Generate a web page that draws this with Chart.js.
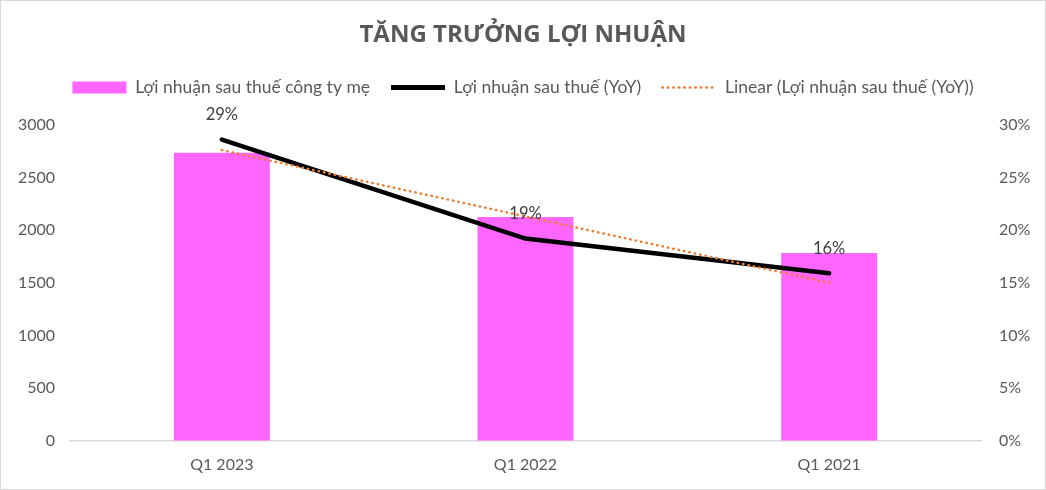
<!DOCTYPE html>
<html>
<head>
<meta charset="utf-8">
<script src="https://cdn.jsdelivr.net/npm/chart.js@4"></script>
<style>
html,body{margin:0;padding:0;background:#fff;}
#wrap{width:1046px;height:490px;box-sizing:border-box;border:1px solid #d9d9d9;position:relative;}
</style>
</head>
<body>
<div id="wrap"><canvas id="c" width="1044" height="488"></canvas></div>
<script>
const categories = ["Q1 2023", "Q1 2022", "Q1 2021"];
const profitValues = [2735, 2125, 1782];
const yoyValues = [28.6, 19.2, 15.9];
const trendValues = [27.6, 21.3, 15.0];
const leftTicks = [0, 500, 1000, 1500, 2000, 2500, 3000];
const rightTicks = [0, 5, 10, 15, 20, 25, 30];
const seriesNames = ["Lợi nhuận sau thuế công ty mẹ", "Lợi nhuận sau thuế (YoY)", "Linear (Lợi nhuận sau thuế (YoY))"];
const titleText = "TĂNG TRƯỞNG LỢI NHUẬN";

const gray = "#595959";

const labelPlugin = {
  id: "yoyLabels",
  afterDatasetsDraw(chart) {
    const meta = chart.getDatasetMeta(1);
    const ctx = chart.ctx;
    ctx.save();
    ctx.font = "16.5px Lato";
    ctx.fillStyle = "#404040";
    ctx.textAlign = "center";
    ctx.textBaseline = "middle";
    meta.data.forEach((pt, i) => {
      ctx.fillText(Math.round(yoyValues[i]) + "%", pt.x, pt.y - 25);
    });
    ctx.restore();
  }
};

const legendHeightPlugin = {
  id: "legendHeight",
  beforeLayout(chart) {
    const lg = chart.legend;
    if (lg && !lg._patched) {
      const orig = lg.fit.bind(lg);
      lg.fit = function () { orig(); this.height = 67; };
      lg._patched = true;
    }
  }
};

new Chart(document.getElementById("c"), {
  data: {
    labels: categories,
    datasets: [
      {
        type: "bar",
        label: seriesNames[0],
        data: profitValues,
        backgroundColor: "#ff66ff",
        yAxisID: "y",
        categoryPercentage: 1,
        barPercentage: 0.316,
        order: 3
      },
      {
        type: "line",
        label: seriesNames[1],
        data: yoyValues,
        borderColor: "#000000",
        backgroundColor: "#000000",
        borderWidth: 4.5,
        pointRadius: 0,
        borderCapStyle: "round",
        yAxisID: "y1",
        order: 2
      },
      {
        type: "line",
        label: seriesNames[2],
        data: trendValues,
        borderColor: "#ed7d31",
        backgroundColor: "#ed7d31",
        borderWidth: 2.5,
        borderDash: [0.5, 5],
        borderCapStyle: "round",
        pointRadius: 0,
        yAxisID: "y1",
        order: 1
      }
    ]
  },
  options: {
    responsive: false,
    animation: false,
    events: [],
    layout: { padding: { left: 0, right: 0, top: 0, bottom: 1 } },
    plugins: {
      tooltip: { enabled: false },
      title: {
        display: true,
        text: titleText,
        color: gray,
        font: { family: "'Open Sans'", size: 24, weight: "bold" },
        padding: { top: 20, bottom: 8 }
      },
      legend: {
        display: true,
        position: "top",
        labels: {
          color: gray,
          font: { family: "Lato", size: 17.5 },
          usePointStyle: true,
          pointStyleWidth: 54,
          boxWidth: 54,
          boxHeight: 12,
          padding: 21,
          generateLabels(chart) {
            return chart.data.datasets.map((ds, i) => ({
              text: ds.label,
              datasetIndex: i,
              fillStyle: i === 0 ? ds.backgroundColor : "rgba(0,0,0,0)",
              strokeStyle: i === 0 ? ds.backgroundColor : ds.borderColor,
              lineWidth: i === 0 ? 0 : (i === 1 ? 5 : 2.5),
              lineDash: i === 2 ? [0.5, 5] : [],
              lineCap: i === 2 ? "round" : "butt",
              pointStyle: i === 0 ? "rect" : "line",
              fontColor: gray,
              hidden: false
            }));
          }
        }
      }
    },
    scales: {
      x: {
        type: "category",
        offset: true,
        grid: { display: false, drawTicks: false },
        border: { display: true, color: "#d9d9d9", width: 1.5 },
        ticks: { color: gray, font: { family: "Lato", size: 16 }, padding: 14 }
      },
      y: {
        position: "left",
        min: 0,
        max: 3000,
        afterBuildTicks(scale) { scale.ticks = leftTicks.map(v => ({ value: v })); },
        afterFit(scale) { scale.width = 69; },
        grid: { display: false, drawTicks: false },
        border: { display: false },
        ticks: { color: gray, font: { family: "Lato", size: 16 }, padding: 15, callback: v => String(v) }
      },
      y1: {
        position: "right",
        min: 0,
        max: 30,
        afterBuildTicks(scale) { scale.ticks = rightTicks.map(v => ({ value: v })); },
        afterFit(scale) { scale.width = 64; },
        grid: { display: false, drawTicks: false },
        border: { display: false },
        ticks: { color: gray, font: { family: "Lato", size: 16 }, padding: 18, callback: v => v + "%" }
      }
    }
  },
  plugins: [labelPlugin, legendHeightPlugin]
});
</script>
</body>
</html>
